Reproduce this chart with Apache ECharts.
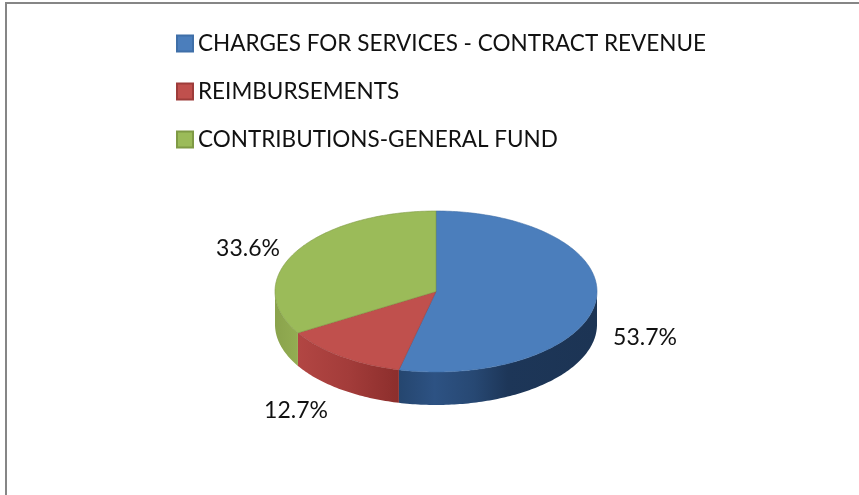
<!DOCTYPE html>
<html><head><meta charset="utf-8">
<style>html,body{margin:0;padding:0;background:#fff}#c{width:859px;height:495px}</style>
<script src="https://cdn.jsdelivr.net/npm/echarts@6/dist/echarts.min.js"></script>
</head><body><div id="c"></div>
<script>
const categories = ['CHARGES FOR SERVICES - CONTRACT REVENUE', 'REIMBURSEMENTS', 'CONTRIBUTIONS-GENERAL FUND'];
const values = [53.7, 12.7, 33.6];
const topColors = ['#4b7ebc', '#c0504d', '#9bbb59'];
const edgeColors = ['#3f6fa8', '#9e3c3a', '#7f9a45'];
const wallStops = [
  [[0, '#25466f'], [0.18, '#2d5283'], [0.38, '#274873'], [0.55, '#1d3658'], [1, '#1c3454']],
  [[0, '#b24643'], [0.5, '#a33c3a'], [1, '#8c2e2c']],
  [[0, '#8aa34c'], [1, '#93ad52']]
];
const labelCentres = [[645, 338], [296, 411], [248, 249]];

const FONT = 'Lato, "Open Sans", sans-serif';
const CX = 436, CY = 291.5, RX = 161, RY = 80.5, DEPTH = 33;
const total = values.reduce((a, b) => a + b, 0);
const pt = (deg, dy) => {
  const t = deg * Math.PI / 180;
  return [CX + RX * Math.sin(t), CY - RY * Math.cos(t) + (dy || 0)];
};
function arc(from, to, dy) {
  const out = [], n = Math.max(2, Math.ceil(Math.abs(to - from)));
  for (let i = 0; i <= n; i++) out.push(pt(from + (to - from) * i / n, dy));
  return out;
}
function renderSlice(idx) {
  return function (params, api) {
    const v = api.value(0);
    let before = 0;
    for (let i = 0; i < idx; i++) before += values[i];
    const a0 = before / total * 360, a1 = a0 + v / total * 360;
    const children = [];
    const w0 = Math.max(a0, 90), w1 = Math.min(a1, 270);
    if (w1 > w0) {
      const stops = wallStops[idx].map(s => ({ offset: s[0], color: s[1] }));
      children.push({
        type: 'polygon',
        shape: { points: arc(w0, w1, 0).concat(arc(w1, w0, DEPTH)) },
        style: { fill: new echarts.graphic.LinearGradient(0, 0, 1, 0, stops) }
      });
    }
    children.push({
      type: 'polygon',
      shape: { points: [[CX, CY]].concat(arc(a0, a1, 0)) },
      style: { fill: topColors[idx], stroke: edgeColors[idx], lineWidth: 0.6 }
    });
    const c = labelCentres[idx];
    children.push({
      type: 'text', z2: 10, x: c[0], y: c[1],
      style: { text: v.toFixed(1) + '%', fill: '#111', font: '23px ' + FONT, align: 'center', verticalAlign: 'middle' }
    });
    return { type: 'group', children };
  };
}
const chart = echarts.init(document.getElementById('c'), null, { renderer: 'canvas' });
chart.setOption({
  animation: false,
  backgroundColor: '#fff',
  legend: {
    data: categories, orient: 'vertical', left: 176, top: 32,
    icon: 'rect', itemWidth: 16, itemHeight: 16, itemGap: 25, padding: 0,
    selectedMode: false,
    textStyle: { fontFamily: FONT, fontSize: 22.5, color: '#111', padding: [0, 0, 0, 0] }
  },
  graphic: [
    { type: 'rect', silent: true, z: -1, shape: { x: 6, y: 3, width: 1000, height: 700 }, style: { fill: '#fff', stroke: '#868686', lineWidth: 2 } }
  ],
  series: categories.map((name, i) => ({
    type: 'custom', name, coordinateSystem: 'none', data: [[values[i]]],
    renderItem: renderSlice(i),
    itemStyle: { color: topColors[i], borderColor: edgeColors[i], borderWidth: 1 },
    z: 2 + i
  }))
});
</script></body></html>
